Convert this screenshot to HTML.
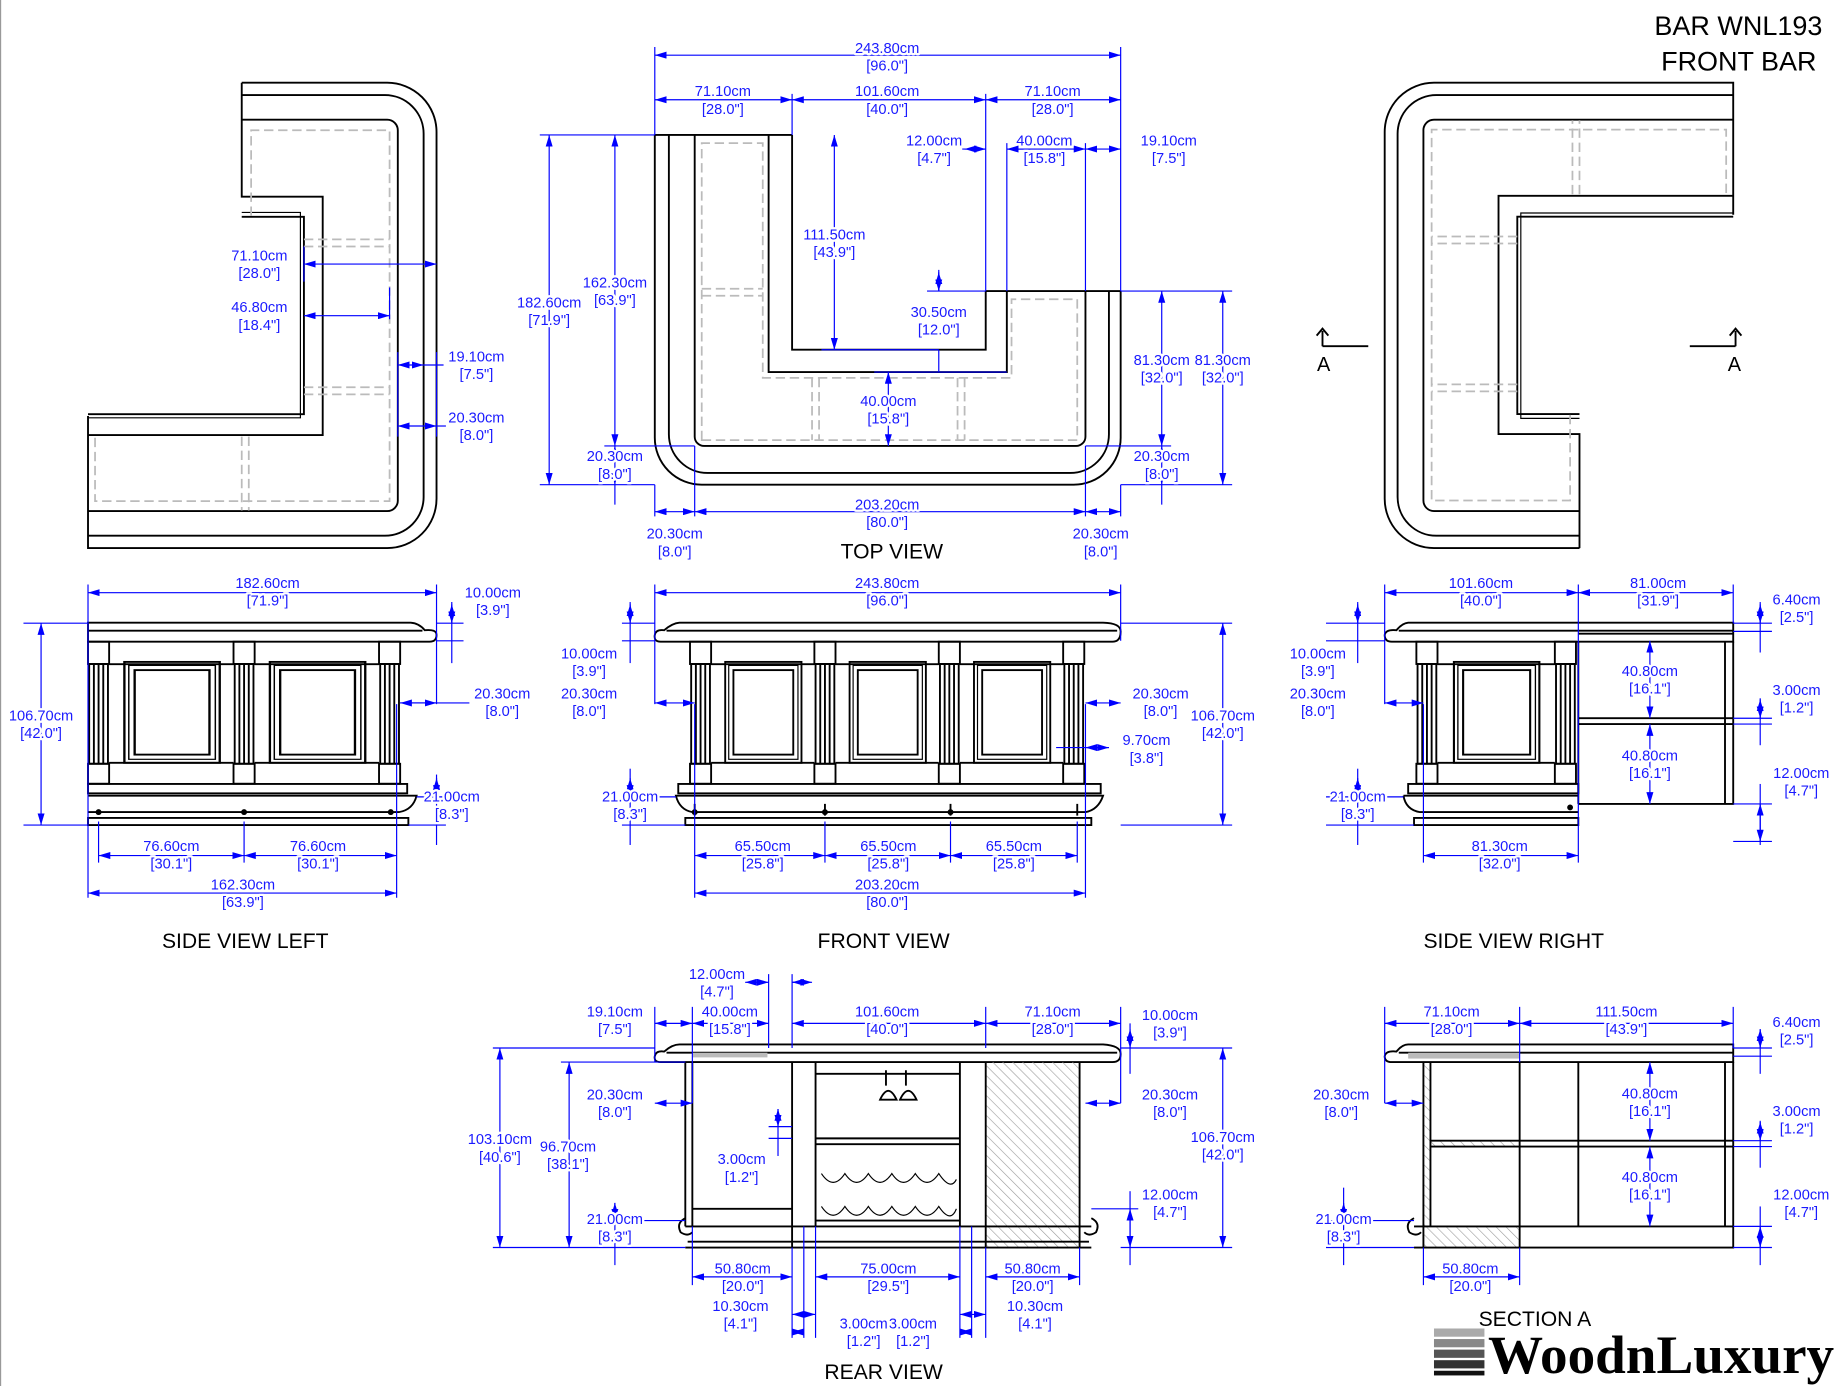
<!DOCTYPE html>
<html><head><meta charset="utf-8"><style>
html,body{margin:0;padding:0;background:#fff}
svg{display:block}
.k{stroke:#000;fill:none;stroke-width:1.6}
.k2{stroke:#000;fill:none;stroke-width:1}
.g{stroke:#bbb;fill:none;stroke-width:1.5;stroke-dasharray:8 4}
.d{stroke:#00f;fill:none;stroke-width:1;marker-start:url(#ar);marker-end:url(#ar)}
.e{stroke:#00f;fill:none;stroke-width:1}
text{font-family:"Liberation Sans",sans-serif}
.t{fill:#1a1aff;font-size:12.5px;text-anchor:middle;paint-order:stroke;stroke:#fff;stroke-width:4px;stroke-linejoin:round}
.h{fill:#000;font-size:18px;text-anchor:middle}
</style></head><body>
<svg width="1840" height="1386" viewBox="0 0 1568 1181" preserveAspectRatio="none" xmlns="http://www.w3.org/2000/svg">
<defs>
<marker id="ar" viewBox="0 0 10 6" refX="10" refY="3" markerWidth="10" markerHeight="6" markerUnits="userSpaceOnUse" orient="auto-start-reverse"><path d="M0,0 L10,3 L0,6 Z" fill="#00f"/></marker>
<pattern id="hatch" width="6" height="6" patternUnits="userSpaceOnUse" patternTransform="rotate(-45)"><line x1="0" y1="0" x2="0" y2="6" stroke="#999" stroke-width="1"/></pattern>
<g id="post">
<rect x="0" y="0" width="18" height="19" class="k"/>
<rect x="1" y="19" width="16" height="85" class="k"/>
<line x1="5" y1="19" x2="5" y2="104" class="k"/><line x1="9" y1="19" x2="9" y2="104" class="k"/><line x1="13" y1="19" x2="13" y2="104" class="k"/>
<rect x="0" y="104" width="18" height="17" class="k"/>
</g>
<g id="panel">
<rect x="0" y="0" width="65" height="86" class="k"/>
<rect x="3" y="3" width="59" height="80" class="k2"/>
<rect x="7" y="7" width="51" height="72" class="k"/>
</g>
<g id="lshape">
<path class="k" d="M206,70.5 H330 A42,42 0 0 1 372,112.5 V425 A42,42 0 0 1 330,467 H75 V354.5"/>
<path class="k" d="M206,81 H328 A33,33 0 0 1 361,114 V423 A33,33 0 0 1 328,456.5 H75"/>
<path class="k" d="M206,102 H330 A9,9 0 0 1 339,111 V426 A9,9 0 0 1 330,435.5 H75"/>
<path class="k" d="M206,70.5 V167.6 H275 V370.7 H75"/>
<path class="k" d="M206,184.7 H259 V352.9 H75"/>
<path class="k2" d="M206,181 H256 V356 H75"/>
<path class="g" d="M214,184 V111 H332 V427 H81 V372"/>
<path class="g" d="M259,204 H332 M259,210 H332 M259,330 H332 M259,336 H332 M206,372 V435 M212,372 V435"/>
</g>
</defs>

<line x1="0.5" y1="0" x2="0.5" y2="1181" stroke="#999" stroke-width="1"/>

<text x="1553" y="30" font-size="23" text-anchor="end">BAR WNL193</text>
<text x="1548" y="60" font-size="23" text-anchor="end">FRONT BAR</text>

<!-- TOP LEFT -->
<use href="#lshape"/>
<path class="e" d="M259,210 V240 M332,245 V272 M339,300 V372 M372,300 V372"/>
<path class="d" d="M259,225 H372"/><text class="t" x="221" y="222">71.10cm</text><text class="t" x="221" y="237">[28.0"]</text>
<path class="d" d="M259,269 H332"/><text class="t" x="221" y="266">46.80cm</text><text class="t" x="221" y="281">[18.4"]</text>
<path class="d" d="M339,311 H361"/><path class="e" d="M361,311 H378"/><text class="t" x="406" y="308">19.10cm</text><text class="t" x="406" y="323">[7.5"]</text>
<path class="d" d="M339,363 H372"/><path class="e" d="M372,363 H380"/><text class="t" x="406" y="360">20.30cm</text><text class="t" x="406" y="375">[8.0"]</text>

<!-- TOP RIGHT -->
<use href="#lshape" transform="rotate(180 776 268.75)"/>
<path class="k" d="M1127,295 H1166 M1127,295 V282 M1122,286 L1127,280 L1132,286"/><text x="1128" y="316" font-size="17" text-anchor="middle">A</text>
<path class="k" d="M1440,295 H1479 M1479,295 V282 M1474,286 L1479,280 L1484,286"/><text x="1478" y="316" font-size="17" text-anchor="middle">A</text>

<!-- TOP VIEW -->
<path class="k" d="M558,115 V373 A40,40 0 0 0 598,413 H915 A40,40 0 0 0 955,373 V248"/>
<path class="k" d="M570,115 V370 A33,33 0 0 0 603,403 H912 A33,33 0 0 0 945,370 V248"/>
<path class="k" d="M592,115 V372 A8,8 0 0 0 600,380 H917 A8,8 0 0 0 925,372 V248"/>
<path class="k" d="M558,115 H675 M840,248 H955 M675,115 V298 H840 V248 M655,115 V317 H858 V248"/>
<path class="g" d="M598,375 V122 H650 V322 H862 V255 H918 V375 Z M598,246 H650 M598,252 H650 M692,322 V375 M698,322 V375 M816,322 V375 M822,322 V375"/>
<path class="e" d="M558,40 V115 M955,40 V248 M675,80 V115 M840,80 V248 M858,122 V248 M925,122 V248 M460,115 H558 M515,380 H592 M460,413 H558 M955,413 H1050 M925,380 H998 M955,248 H1050 M558,413 V440 M592,380 V440 M925,380 V440 M955,413 V440 M790,248 H840 M700,298 H800 M745,317 H858"/>
<path class="d" d="M558,47 H955"/><text class="t" x="756" y="45">243.80cm</text><text class="t" x="756" y="60">[96.0"]</text>
<path class="d" d="M558,85 H675"/><text class="t" x="616" y="82">71.10cm</text><text class="t" x="616" y="97">[28.0"]</text>
<path class="d" d="M675,85 H840"/><text class="t" x="756" y="82">101.60cm</text><text class="t" x="756" y="97">[40.0"]</text>
<path class="d" d="M840,85 H955"/><text class="t" x="897" y="82">71.10cm</text><text class="t" x="897" y="97">[28.0"]</text>
<path class="e" d="M820,127 H840 M858,127 H878"/><path class="d" d="M822,127 H840"/><text class="t" x="796" y="124">12.00cm</text><text class="t" x="796" y="139">[4.7"]</text>
<path class="d" d="M858,127 H925"/><text class="t" x="890" y="124">40.00cm</text><text class="t" x="890" y="139">[15.8"]</text>
<path class="d" d="M925,127 H955"/><text class="t" x="996" y="124">19.10cm</text><text class="t" x="996" y="139">[7.5"]</text>
<path class="d" d="M468,115 V413"/><text class="t" x="468" y="262">182.60cm</text><text class="t" x="468" y="277">[71.9"]</text>
<path class="d" d="M524,115 V380"/><text class="t" x="524" y="245">162.30cm</text><text class="t" x="524" y="260">[63.9"]</text>
<path class="d" d="M524,380 V413"/><path class="e" d="M524,413 V430"/><text class="t" x="524" y="393">20.30cm</text><text class="t" x="524" y="408">[8.0"]</text>
<path class="d" d="M711,115 V298"/><text class="t" x="711" y="204">111.50cm</text><text class="t" x="711" y="219">[43.9"]</text>
<path class="e" d="M800,230 V248 M800,298 V317"/><path class="d" d="M800,232 V248"/><text class="t" x="800" y="270">30.50cm</text><text class="t" x="800" y="285">[12.0"]</text>
<path class="d" d="M757,317 V380"/><text class="t" x="757" y="346">40.00cm</text><text class="t" x="757" y="361">[15.8"]</text>
<path class="d" d="M990,248 V380"/><text class="t" x="990" y="311">81.30cm</text><text class="t" x="990" y="326">[32.0"]</text>
<path class="d" d="M1042,248 V413"/><text class="t" x="1042" y="311">81.30cm</text><text class="t" x="1042" y="326">[32.0"]</text>
<path class="d" d="M990,380 V413"/><path class="e" d="M990,413 V430"/><text class="t" x="990" y="393">20.30cm</text><text class="t" x="990" y="408">[8.0"]</text>
<path class="d" d="M592,436 H925"/><text class="t" x="756" y="434">203.20cm</text><text class="t" x="756" y="449">[80.0"]</text>
<path class="d" d="M558,436 H592"/><text class="t" x="575" y="459">20.30cm</text><text class="t" x="575" y="474">[8.0"]</text>
<path class="d" d="M925,436 H955"/><text class="t" x="938" y="459">20.30cm</text><text class="t" x="938" y="474">[8.0"]</text>
<text class="h" x="760" y="476">TOP VIEW</text>

<!-- FRONT VIEW -->
<path class="k" d="M579,530.6 H940 Q955,531 955,538 Q955,546.8 948,546.8 H563 Q557,546.8 558,541 Q559,536 566,537 Q573,531 579,530.6 Z M568,537.4 H952"/>
<use href="#post" x="588" y="546.8"/><use href="#post" x="694" y="546.8"/><use href="#post" x="800" y="546.8"/><use href="#post" x="906" y="546.8"/>
<use href="#panel" x="618" y="564"/><use href="#panel" x="724" y="564"/><use href="#panel" x="830" y="564"/>
<path class="k" d="M606,566 H694 M712,566 H800 M818,566 H906 M606,650 H694 M712,650 H800 M818,650 H906"/>
<rect class="k" x="578" y="668" width="360" height="8"/>
<path class="k" d="M576,678 H940 Q936,690 925,692 H590 Q579,690 576,678 Z M584,697 H930 V703 H584 Z"/>
<path class="k" d="M592,685 V695 M703,685 V695 M810,685 V695 M918,685 V695"/>
<circle cx="592" cy="692" r="2.5"/><circle cx="703" cy="692" r="2.5"/><circle cx="810" cy="692" r="2.5"/>
<path class="e" d="M558,498 V600 M955,498 V546 M530,531 H558 M530,546 H558 M955,531 H1050 M955,703 H1050 M592,600 V765 M925,600 V765 M703,700 V735 M810,700 V735 M918,700 V735 M530,679 H576 M530,703 H584 M900,637 H945"/>
<path class="d" d="M558,505 H955"/><text class="t" x="756" y="501">243.80cm</text><text class="t" x="756" y="516">[96.0"]</text>
<path class="e" d="M537,513 V565"/><path class="d" d="M537,515 V531"/><text class="t" x="502" y="561">10.00cm</text><text class="t" x="502" y="576">[3.9"]</text>
<path class="d" d="M558,599 H592"/><text class="t" x="502" y="595">20.30cm</text><text class="t" x="502" y="610">[8.0"]</text>
<path class="d" d="M925,599 H955"/><text class="t" x="989" y="595">20.30cm</text><text class="t" x="989" y="610">[8.0"]</text>
<path class="d" d="M1042,531 V703"/><text class="t" x="1042" y="614">106.70cm</text><text class="t" x="1042" y="629">[42.0"]</text>
<path class="d" d="M925,637 H945"/><text class="t" x="977" y="635">9.70cm</text><text class="t" x="977" y="650">[3.8"]</text>
<path class="e" d="M537,655 V720"/><path class="d" d="M537,663 V679"/><text class="t" x="537" y="683">21.00cm</text><text class="t" x="537" y="698">[8.3"]</text>
<path class="d" d="M592,729 H703"/><text class="t" x="650" y="725">65.50cm</text><text class="t" x="650" y="740">[25.8"]</text>
<path class="d" d="M703,729 H810"/><text class="t" x="757" y="725">65.50cm</text><text class="t" x="757" y="740">[25.8"]</text>
<path class="d" d="M810,729 H918"/><text class="t" x="864" y="725">65.50cm</text><text class="t" x="864" y="740">[25.8"]</text>
<path class="d" d="M592,761 H925"/><text class="t" x="756" y="758">203.20cm</text><text class="t" x="756" y="773">[80.0"]</text>
<text class="h" x="753" y="808">FRONT VIEW</text>

<!-- SIDE VIEW LEFT -->
<path class="k" d="M75,530.6 H350 Q357,531 362,537 Q372,536 372,541 Q372,546.8 366,546.8 H75 Z M75,537.4 H360"/>
<use href="#post" x="75" y="546.8"/><use href="#post" x="199" y="546.8"/><use href="#post" x="323" y="546.8"/>
<path class="k" d="M93,566 H199 M217,566 H323 M93,650 H199 M217,650 H323"/>
<g transform="translate(106,564) scale(1.25,1)"><use href="#panel"/></g>
<g transform="translate(230,564) scale(1.25,1)"><use href="#panel"/></g>
<rect class="k" x="75" y="668" width="272" height="8"/>
<path class="k" d="M75,678 H355 Q352,690 340,692 H75 M75,697 H348 V703 H75 Z"/>
<circle cx="84" cy="692" r="2.5"/><circle cx="208" cy="692" r="2.5"/><circle cx="333" cy="692" r="2.5"/>
<path class="e" d="M75,498 V765 M372,498 V600 M20,531 H75 M20,703 H75 M341,599 H372 M355,679 H380 M348,703 H380 M84,700 V735 M208,700 V735 M338,600 V765"/>
<path class="d" d="M75,505 H372"/><text class="t" x="228" y="501">182.60cm</text><text class="t" x="228" y="516">[71.9"]</text>
<path class="e" d="M372,531 H395 M372,546 H395 M385,513 V565"/><path class="d" d="M385,515 V531"/><text class="t" x="420" y="509">10.00cm</text><text class="t" x="420" y="524">[3.9"]</text>
<path class="d" d="M35,531 V703"/><text class="t" x="35" y="614">106.70cm</text><text class="t" x="35" y="629">[42.0"]</text>
<path class="d" d="M341,599 H372"/><path class="e" d="M372,599 H400"/><text class="t" x="428" y="595">20.30cm</text><text class="t" x="428" y="610">[8.0"]</text>
<path class="e" d="M372,660 V720"/><path class="d" d="M372,663 V679"/><text class="t" x="385" y="683">21.00cm</text><text class="t" x="385" y="698">[8.3"]</text>
<path class="d" d="M84,729 H208"/><text class="t" x="146" y="725">76.60cm</text><text class="t" x="146" y="740">[30.1"]</text>
<path class="d" d="M208,729 H338"/><text class="t" x="271" y="725">76.60cm</text><text class="t" x="271" y="740">[30.1"]</text>
<path class="d" d="M75,761 H338"/><text class="t" x="207" y="758">162.30cm</text><text class="t" x="207" y="773">[63.9"]</text>
<text class="h" x="209" y="808">SIDE VIEW LEFT</text>

<!-- SIDE VIEW RIGHT -->
<path class="k" d="M1200,530.6 H1477 V546.8 H1186 Q1180,546.8 1180,541 Q1181,536 1190,537 Q1195,531 1200,530.6 Z M1192,537.4 H1477 M1345,540 H1477"/>
<use href="#post" x="1207" y="546.8"/><use href="#post" x="1325" y="546.8"/>
<path class="k" d="M1225,566 H1325 M1225,650 H1325"/>
<g transform="translate(1239,564) scale(1.12,1)"><use href="#panel"/></g>
<path class="k" d="M1345,546.8 V685 M1470,546.8 V685 M1477,546.8 V685 H1345 M1345,612 H1477 M1345,617 H1477"/>
<rect class="k" x="1200" y="668" width="145" height="8"/>
<path class="k" d="M1196,678 H1345 M1345,692 H1210 Q1198,690 1196,678 M1205,697 H1345 V703 H1205 Z"/>
<circle cx="1338" cy="688" r="2.5"/>
<path class="e" d="M1180,498 V600 M1345,498 V735 M1477,498 V531 M1130,531 H1180 M1130,546 H1180 M1477,531 H1510 M1477,538 H1510 M1477,612 H1510 M1477,617 H1510 M1477,685 H1510 M1477,717 H1510 M1213,600 V735 M1130,679 H1196 M1130,703 H1205"/>
<path class="d" d="M1180,505 H1345"/><text class="t" x="1262" y="501">101.60cm</text><text class="t" x="1262" y="516">[40.0"]</text>
<path class="d" d="M1345,505 H1477"/><text class="t" x="1413" y="501">81.00cm</text><text class="t" x="1413" y="516">[31.9"]</text>
<path class="e" d="M1500,513 V556"/><path class="d" d="M1500,515 V531"/><text class="t" x="1531" y="515">6.40cm</text><text class="t" x="1531" y="530">[2.5"]</text>
<path class="e" d="M1157,513 V565"/><path class="d" d="M1157,515 V531"/><text class="t" x="1123" y="561">10.00cm</text><text class="t" x="1123" y="576">[3.9"]</text>
<path class="d" d="M1180,599 H1213"/><text class="t" x="1123" y="595">20.30cm</text><text class="t" x="1123" y="610">[8.0"]</text>
<path class="d" d="M1406,546 V612"/><text class="t" x="1406" y="576">40.80cm</text><text class="t" x="1406" y="591">[16.1"]</text>
<path class="e" d="M1500,595 V635"/><path class="d" d="M1500,596 V612"/><text class="t" x="1531" y="592">3.00cm</text><text class="t" x="1531" y="607">[1.2"]</text>
<path class="d" d="M1406,617 V685"/><text class="t" x="1406" y="648">40.80cm</text><text class="t" x="1406" y="663">[16.1"]</text>
<path class="e" d="M1500,668 V720"/><path class="d" d="M1500,685 V717"/><text class="t" x="1535" y="663">12.00cm</text><text class="t" x="1535" y="678">[4.7"]</text>
<path class="e" d="M1157,655 V720"/><path class="d" d="M1157,663 V679"/><text class="t" x="1157" y="683">21.00cm</text><text class="t" x="1157" y="698">[8.3"]</text>
<path class="d" d="M1213,729 H1345"/><text class="t" x="1278" y="725">81.30cm</text><text class="t" x="1278" y="740">[32.0"]</text>
<text class="h" x="1290" y="808">SIDE VIEW  RIGHT</text>

<!-- REAR VIEW -->
<path class="k" d="M579,890 H940 Q955,891 955,898 Q955,905 948,905 H563 Q557,905 558,900 Q559,895 566,896 Q573,890 579,890 Z M568,897 H952"/>
<rect x="590" y="897" width="64" height="4" fill="#bbb"/>
<rect x="840" y="905" width="80" height="158" fill="url(#hatch)"/>
<path class="k" d="M584,905 V1045 M590,905 V1045 M675,905 V1063 M695,905 V1045 M818,905 V1045 M840,905 V1063 M920,905 V1063 M590,1030 H675 M695,915 H818 M695,970 H818 M695,975 H818 M584,1045 H930 M584,1063 H930 M586,1058 H928 M695,1040 H818"/>
<path class="k2" d="M700,1000 Q710,1015 720,1000 Q730,1015 740,1000 Q750,1015 760,1000 Q770,1015 780,1000 Q790,1015 800,1000 Q810,1015 815,1005 M700,1028 Q710,1043 720,1028 Q730,1043 740,1028 Q750,1043 760,1028 Q770,1043 780,1028 Q790,1043 800,1028 Q810,1043 815,1030"/>
<path class="k" d="M755,912 V925 M750,937 Q757,922 764,937 Z M772,912 V925 M767,937 Q774,922 781,937 Z"/>
<path class="k" d="M584,1038 Q576,1042 580,1050 Q586,1054 590,1050 M930,1038 Q938,1042 934,1050 Q928,1054 924,1050"/>
<path class="e" d="M558,858 V905 M590,858 V940 M655,830 V893 M675,830 V893 M840,858 V893 M955,858 V940 M420,893 H558 M478,905 H584 M420,1063 H584 M955,893 H1050 M955,1063 H1050 M930,1030 H970 M515,1040 H584 M515,1063 H584 M655,960 H675 M655,970 H675 M590,1045 V1095 M675,1063 V1140 M695,1045 V1140 M818,1045 V1140 M840,1063 V1140 M920,1063 V1095 M685,1045 V1140 M828,1045 V1140"/>
<path class="d" d="M635,837 H655"/><path class="e" d="M675,837 H690"/><path class="d" d="M692,837 H675"/><text class="t" x="611" y="834">12.00cm</text><text class="t" x="611" y="849">[4.7"]</text>
<path class="d" d="M558,872 H590"/><text class="t" x="524" y="866">19.10cm</text><text class="t" x="524" y="881">[7.5"]</text>
<path class="d" d="M590,872 H655"/><text class="t" x="622" y="866">40.00cm</text><text class="t" x="622" y="881">[15.8"]</text>
<path class="d" d="M675,872 H840"/><text class="t" x="756" y="866">101.60cm</text><text class="t" x="756" y="881">[40.0"]</text>
<path class="d" d="M840,872 H955"/><text class="t" x="897" y="866">71.10cm</text><text class="t" x="897" y="881">[28.0"]</text>
<path class="e" d="M963,872 V915"/><path class="d" d="M963,877 V893"/><text class="t" x="997" y="869">10.00cm</text><text class="t" x="997" y="884">[3.9"]</text>
<path class="d" d="M426,893 V1063"/><text class="t" x="426" y="975">103.10cm</text><text class="t" x="426" y="990">[40.6"]</text>
<path class="d" d="M485,905 V1063"/><text class="t" x="484" y="981">96.70cm</text><text class="t" x="484" y="996">[38.1"]</text>
<path class="d" d="M558,940 H590"/><text class="t" x="524" y="937">20.30cm</text><text class="t" x="524" y="952">[8.0"]</text>
<path class="d" d="M925,940 H955"/><text class="t" x="997" y="937">20.30cm</text><text class="t" x="997" y="952">[8.0"]</text>
<path class="e" d="M663,945 V985"/><path class="d" d="M663,945 V960"/><text class="t" x="632" y="992">3.00cm</text><text class="t" x="632" y="1007">[1.2"]</text>
<path class="e" d="M524,1025 V1078"/><path class="d" d="M524,1025 V1040"/><text class="t" x="524" y="1043">21.00cm</text><text class="t" x="524" y="1058">[8.3"]</text>
<path class="d" d="M1042,893 V1063"/><text class="t" x="1042" y="973">106.70cm</text><text class="t" x="1042" y="988">[42.0"]</text>
<path class="e" d="M963,1015 V1078"/><path class="d" d="M963,1030 V1063"/><text class="t" x="997" y="1022">12.00cm</text><text class="t" x="997" y="1037">[4.7"]</text>
<path class="d" d="M590,1088 H675"/><text class="t" x="633" y="1085">50.80cm</text><text class="t" x="633" y="1100">[20.0"]</text>
<path class="d" d="M695,1088 H818"/><text class="t" x="757" y="1085">75.00cm</text><text class="t" x="757" y="1100">[29.5"]</text>
<path class="d" d="M840,1088 H920"/><text class="t" x="880" y="1085">50.80cm</text><text class="t" x="880" y="1100">[20.0"]</text>
<path class="d" d="M675,1120 H695"/><text class="t" x="631" y="1117">10.30cm</text><text class="t" x="631" y="1132">[4.1"]</text>
<path class="d" d="M818,1120 H840"/><text class="t" x="882" y="1117">10.30cm</text><text class="t" x="882" y="1132">[4.1"]</text>
<path class="d" d="M675,1135 H685"/><path class="d" d="M818,1135 H828"/><text class="t" x="736" y="1132">3.00cm</text><text class="t" x="736" y="1147">[1.2"]</text><text class="t" x="778" y="1132">3.00cm</text><text class="t" x="778" y="1147">[1.2"]</text>
<text class="h" x="753" y="1175">REAR VIEW</text>

<!-- SECTION A -->
<path class="k" d="M1200,890 H1477 V905 H1186 Q1180,905 1180,900 Q1181,895 1190,896 Q1195,890 1200,890 Z M1192,897 H1477"/>
<rect x="1200" y="897" width="95" height="5" fill="#bbb"/>
<rect x="1213" y="905" width="6" height="140" fill="url(#hatch)"/>
<rect x="1213" y="1045" width="82" height="18" fill="url(#hatch)"/>
<rect x="1219" y="972" width="76" height="5" fill="url(#hatch)"/>
<path class="k" d="M1213,905 V1063 M1219,905 V1045 M1295,905 V1063 M1345,905 V1045 M1470,905 V1045 M1477,905 V1063 H1205 M1205,1045 H1477 M1219,972 H1477 M1219,977 H1477"/>
<path class="k" d="M1205,1038 Q1197,1042 1201,1050 Q1207,1054 1211,1050"/>
<path class="e" d="M1180,858 V940 M1295,858 V905 M1477,858 V893 M1477,893 H1510 M1477,900 H1510 M1477,972 H1510 M1477,977 H1510 M1477,1045 H1510 M1477,1063 H1510 M1130,1040 H1205 M1130,1063 H1205 M1213,1063 V1095 M1295,1063 V1095"/>
<path class="d" d="M1180,872 H1295"/><text class="t" x="1237" y="866">71.10cm</text><text class="t" x="1237" y="881">[28.0"]</text>
<path class="d" d="M1295,872 H1477"/><text class="t" x="1386" y="866">111.50cm</text><text class="t" x="1386" y="881">[43.9"]</text>
<path class="e" d="M1500,877 V915"/><path class="d" d="M1500,877 V893"/><text class="t" x="1531" y="875">6.40cm</text><text class="t" x="1531" y="890">[2.5"]</text>
<path class="d" d="M1180,940 H1213"/><text class="t" x="1143" y="937">20.30cm</text><text class="t" x="1143" y="952">[8.0"]</text>
<path class="d" d="M1406,905 V972"/><text class="t" x="1406" y="936">40.80cm</text><text class="t" x="1406" y="951">[16.1"]</text>
<path class="e" d="M1500,955 V995"/><path class="d" d="M1500,956 V972"/><text class="t" x="1531" y="951">3.00cm</text><text class="t" x="1531" y="966">[1.2"]</text>
<path class="d" d="M1406,977 V1045"/><text class="t" x="1406" y="1007">40.80cm</text><text class="t" x="1406" y="1022">[16.1"]</text>
<path class="e" d="M1500,1028 V1078"/><path class="d" d="M1500,1045 V1063"/><text class="t" x="1535" y="1022">12.00cm</text><text class="t" x="1535" y="1037">[4.7"]</text>
<path class="e" d="M1145,1012 V1078"/><path class="d" d="M1145,1025 V1040"/><text class="t" x="1145" y="1043">21.00cm</text><text class="t" x="1145" y="1058">[8.3"]</text>
<path class="d" d="M1213,1088 H1295"/><text class="t" x="1253" y="1085">50.80cm</text><text class="t" x="1253" y="1100">[20.0"]</text>
<text x="1260" y="1130" font-size="18">SECTION A</text>

<!-- LOGO -->
<rect x="1222" y="1132" width="43" height="7" fill="#aaa"/>
<rect x="1222" y="1141" width="43" height="7" fill="#888"/>
<rect x="1222" y="1150" width="43" height="7" fill="#555"/>
<rect x="1222" y="1159" width="43" height="7" fill="#333"/>
<rect x="1222" y="1168" width="43" height="4" fill="#111"/>
<text x="1268" y="1170" style="font-family:'Liberation Serif',serif;font-weight:bold;font-size:46px" textLength="295" lengthAdjust="spacingAndGlyphs">WoodnLuxury</text>
</svg>
</body></html>
